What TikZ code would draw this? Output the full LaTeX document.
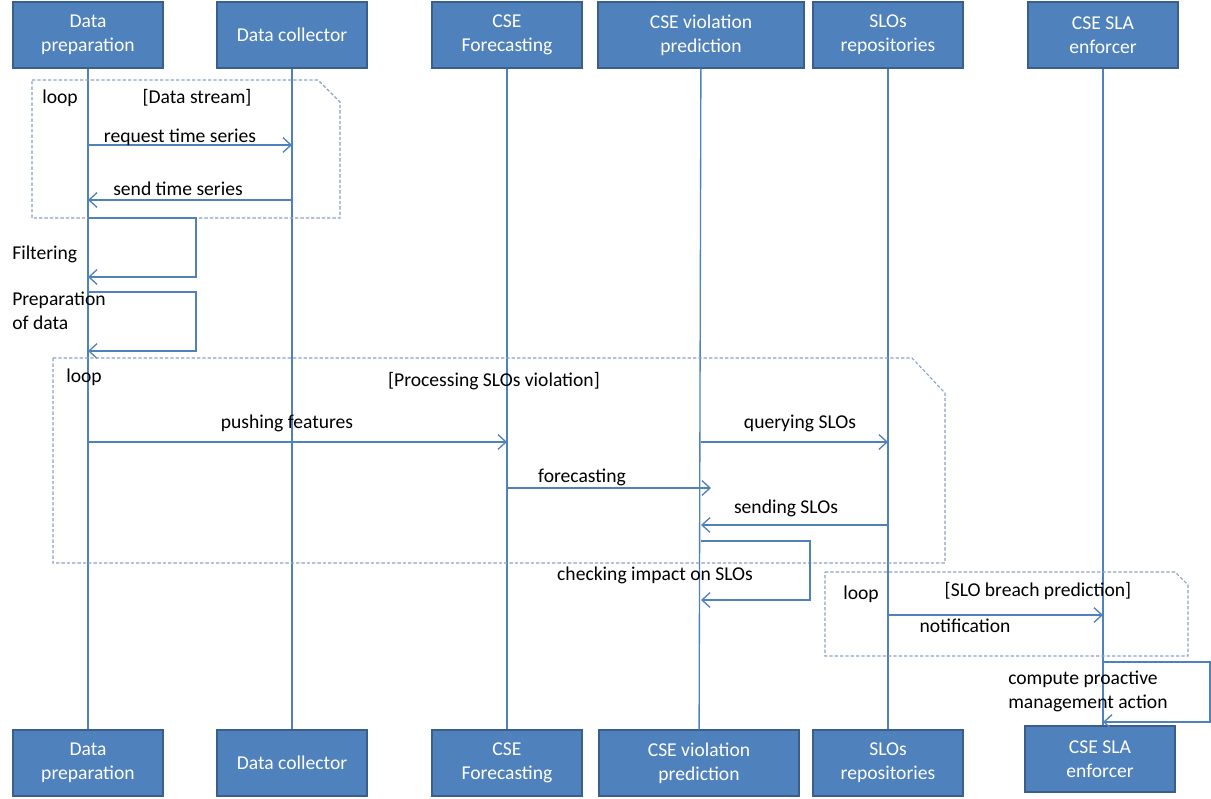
\documentclass[tikz,border=0pt]{standalone}
\usepackage{fontspec}
\setmainfont{Carlito}
\usetikzlibrary{arrows.meta}
\definecolor{mblue}{HTML}{4F81BD}
\definecolor{mdark}{HTML}{3A5F8C}
\definecolor{mgray}{HTML}{8AA2C4}
\tikzset{
  actor/.style = {draw=mdark, fill=mblue, line width=1.5pt, text=white, minimum width=112pt, minimum height=49pt, align=center, font=\fontsize{14.7}{18}\selectfont},
  life/.style = {draw=mblue, line width=1pt},
  msg/.style = {draw=mblue, line width=1pt, -{Straight Barb[length=6pt,width=11pt]}},
  loopbox/.style = {draw=mgray, dash pattern=on 2.5pt off 1.5pt, line width=0.8pt},
  lbl/.style = {font=\fontsize{14.7}{18}\selectfont, inner sep=0},
}

\begin{document}
\begin{tikzpicture}[x=0.75pt, y=-0.75pt]
    \useasboundingbox (0,0) rectangle (1211,799);

    % actors, top and bottom
    \node[actor] (dpT) at (88,35) {Data\\preparation};
    \node[actor] (dcT) at (292,35) {Data collector};
    \node[actor] (cfT) at (507,35) {CSE\\Forecasting};
    \node[actor, minimum width=154pt] (vpT) at (701,35) {CSE violation\\prediction};
    \node[actor] (srT) at (888,35) {SLOs\\repositories};
    \node[actor] (seT) at (1103,35) {CSE SLA\\enforcer};

    \node[actor] (dpB) at (88,763) {Data\\preparation};
    \node[actor] (dcB) at (292,763) {Data collector};
    \node[actor] (cfB) at (507,763) {CSE\\Forecasting};
    \node[actor, minimum width=150pt] (vpB) at (699,763) {CSE violation\\prediction};
    \node[actor] (srB) at (888,763) {SLOs\\repositories};
    \node[actor] (seB) at (1100,759) {CSE SLA\\enforcer};

    \draw[life] (dpT) -- (dpB);
    \draw[life] (dcT) -- (dcB);
    \draw[life] (cfT) -- (cfB);
    \draw[life] (vpT) -- (vpB);
    \draw[life] (srT) -- (srB);
    \draw[life] (seT.south) -- (seT.south |- seB.north);

    % loop: data stream
    \draw[loopbox] (32,80) -- (318,80) -- (340,102) -- (340,218) -- (32,218) -- cycle;
    \node[lbl] (loopA) at (60,98) {loop};
    \node[lbl] (guardA) at (197,98) {[Data stream]};

    \coordinate (y1) at (0,145);
    \coordinate (y2) at (0,200);
    \draw[msg] (dpT |- y1) -- (dcT |- y1);
    \node[lbl] (reqts) at (180,137) {request time series};
    \draw[msg] (dcT |- y2) -- (dpT |- y2);
    \node[lbl] (sendts) at (178,189) {send time series};

    % self calls on data preparation
    \coordinate (y3) at (0,218);
    \coordinate (y4) at (0,277);
    \coordinate (y5) at (0,292);
    \coordinate (y6) at (0,351);
    \draw[msg] (dpT |- y3) -- ++(108,0) |- (dpT |- y4);
    \node[lbl, anchor=west] (filt) at (12,254) {Filtering};
    \draw[msg] (dpT |- y5) -- ++(108,0) |- (dpT |- y6);
    \node[lbl, anchor=west, align=left] (prep) at (12,311) {Preparation\\of data};

    % loop: processing SLOs violation
    \draw[loopbox] (53,358) -- (912,358) -- (945,393) -- (945,563) -- (53,563) -- cycle;
    \node[lbl] (loopB) at (84,377) {loop};
    \node[lbl] (guardB) at (494,381) {[Processing SLOs violation]};

    \coordinate (y7) at (0,442);
    \coordinate (y8) at (0,488);
    \coordinate (y9) at (0,525);
    \coordinate (fcEnd) at (711,488);
    \draw[msg] (dpT |- y7) -- (cfT |- y7);
    \node[lbl] (push) at (287,423) {pushing features};
    \draw[msg] (vpT |- y7) -- (srT |- y7);
    \node[lbl] (query) at (800,423) {querying SLOs};
    \draw[msg] (cfT |- y8) -- (fcEnd);
    \node[lbl] (fcst) at (582,477) {forecasting};
    \draw[msg] (srT |- y9) -- (vpT |- y9);
    \node[lbl] (sendslo) at (786,508) {sending SLOs};

    \coordinate (y10) at (0,541);
    \coordinate (y11) at (0,600);
    \draw[msg] (vpT |- y10) -- ++(109,0) |- (vpT |- y11);
    \node[lbl] (check) at (655,575) {checking impact on SLOs};

    % loop: SLO breach prediction
    \draw[loopbox] (825,572) -- (1175,572) -- (1188,585) -- (1188,656) -- (825,656) -- cycle;
    \node[lbl] (loopC) at (861,594) {loop};
    \node[lbl] (guardC) at (1038,591) {[SLO breach prediction]};

    \coordinate (y12) at (0,615);
    \draw[msg] (srT |- y12) -- (seT |- y12);
    \node[lbl] (notif) at (965,626) {notification};

    \coordinate (y13) at (0,662);
    \coordinate (y14) at (0,722);
    \draw[msg] (seT |- y13) -- ++(107,0) |- (seT |- y14);
    \node[lbl, anchor=west, align=left] (comp) at (1008,691) {compute proactive\\management action};
\end{tikzpicture}
\end{document}
